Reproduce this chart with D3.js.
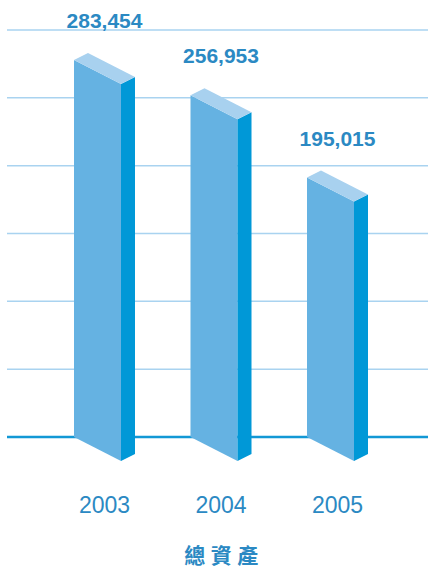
<!DOCTYPE html>
<html lang="zh-Hant">
<head>
    <meta charset="UTF-8" />
    <title>總資產</title>
    <script src="https://d3js.org/d3.v7.min.js"></script>
    <style>
        body { margin: 0; background: #fff; }
    </style>
</head>
<body>
    <script>
        var years = ["2003", "2004", "2005"];
        var totals = [283454, 256953, 195015];
        var gridValues = [0, 51000, 102000, 153000, 204000, 255000, 306000];
        var title = "總資產";

        var w = 428;
        var h = 570;
        var base = 437;
        var frontW = 47;   // front face width
        var sideW = 14;    // side face width
        var dip = 24;      // how far front face drops over its width
        var rise = 7;      // how far side face rises over its width

        var svg = d3.select("body")
            .append("svg")
            .attr("width", w)
            .attr("height", h);

        // Scales
        var xScale = d3.scalePoint()
            .domain(years)
            .range([104.5, 337.5]);

        var yScale = d3.scaleLinear()
            .domain([0, 306000])
            .range([base, 30]);

        // Grid lines
        svg.selectAll("line.grid")
            .data(gridValues.slice(1))
            .enter()
            .append("line")
            .attr("class", "grid")
            .attr("x1", 7)
            .attr("x2", w)
            .attr("y1", function(d) { return yScale(d); })
            .attr("y2", function(d) { return yScale(d); })
            .attr("stroke", "#a9d3f0")
            .attr("stroke-width", 1.5);

        // Base line
        svg.append("line")
            .attr("x1", 7)
            .attr("x2", w)
            .attr("y1", yScale(0))
            .attr("y2", yScale(0))
            .attr("stroke", "#1298d5")
            .attr("stroke-width", 2.5);

        var data = years.map(function(y, i) { return { year: y, value: totals[i] }; });

        var bars = svg.selectAll("g.bar")
            .data(data)
            .enter()
            .append("g")
            .attr("class", "bar");

        function left(d) { return xScale(d.year) - (frontW + sideW) / 2; }

        // Front face
        bars.append("path")
            .attr("fill", "#65b2e2")
            .attr("d", function(d) {
                var x0 = left(d), t = yScale(d.value), b = yScale(0);
                return "M" + x0 + "," + t +
                    "L" + (x0 + frontW) + "," + (t + dip) +
                    "L" + (x0 + frontW) + "," + (b + dip) +
                    "L" + x0 + "," + b + "Z";
            });

        // Side face
        bars.append("path")
            .attr("fill", "#0098d7")
            .attr("d", function(d) {
                var x0 = left(d) + frontW, t = yScale(d.value) + dip, b = yScale(0) + dip;
                return "M" + x0 + "," + t +
                    "L" + (x0 + sideW) + "," + (t - rise) +
                    "L" + (x0 + sideW) + "," + (b - rise) +
                    "L" + x0 + "," + b + "Z";
            });

        // Top face
        bars.append("path")
            .attr("fill", "#a8d1ef")
            .attr("d", function(d) {
                var x0 = left(d), t = yScale(d.value);
                return "M" + x0 + "," + t +
                    "L" + (x0 + sideW) + "," + (t - rise) +
                    "L" + (x0 + sideW + frontW) + "," + (t - rise + dip) +
                    "L" + (x0 + frontW) + "," + (t + dip) + "Z";
            });

        // Value labels
        bars.append("text")
            .text(function(d) { return d3.format(",")(d.value); })
            .attr("x", function(d) { return xScale(d.year); })
            .attr("y", function(d) { return yScale(d.value) - 32; })
            .attr("text-anchor", "middle")
            .attr("font-family", "'Liberation Sans', Arial, sans-serif")
            .attr("font-weight", "bold")
            .attr("font-size", 21)
            .attr("fill", "#2b89c3");

        // Year labels
        svg.selectAll("text.year")
            .data(years)
            .enter()
            .append("text")
            .attr("class", "year")
            .text(function(d) { return d; })
            .attr("x", function(d) { return xScale(d); })
            .attr("y", 513)
            .attr("text-anchor", "middle")
            .attr("font-family", "'Liberation Sans', Arial, sans-serif")
            .attr("font-size", 23)
            .attr("fill", "#2b89c3");

        // Title
        svg.append("text")
            .text(title)
            .attr("x", 224)
            .attr("y", 563)
            .attr("text-anchor", "middle")
            .attr("font-family", "'Noto Sans CJK TC', sans-serif")
            .attr("font-weight", "bold")
            .attr("font-size", 21)
            .attr("letter-spacing", 5.5)
            .attr("fill", "#2b89c3");
    </script>
</body>
</html>
